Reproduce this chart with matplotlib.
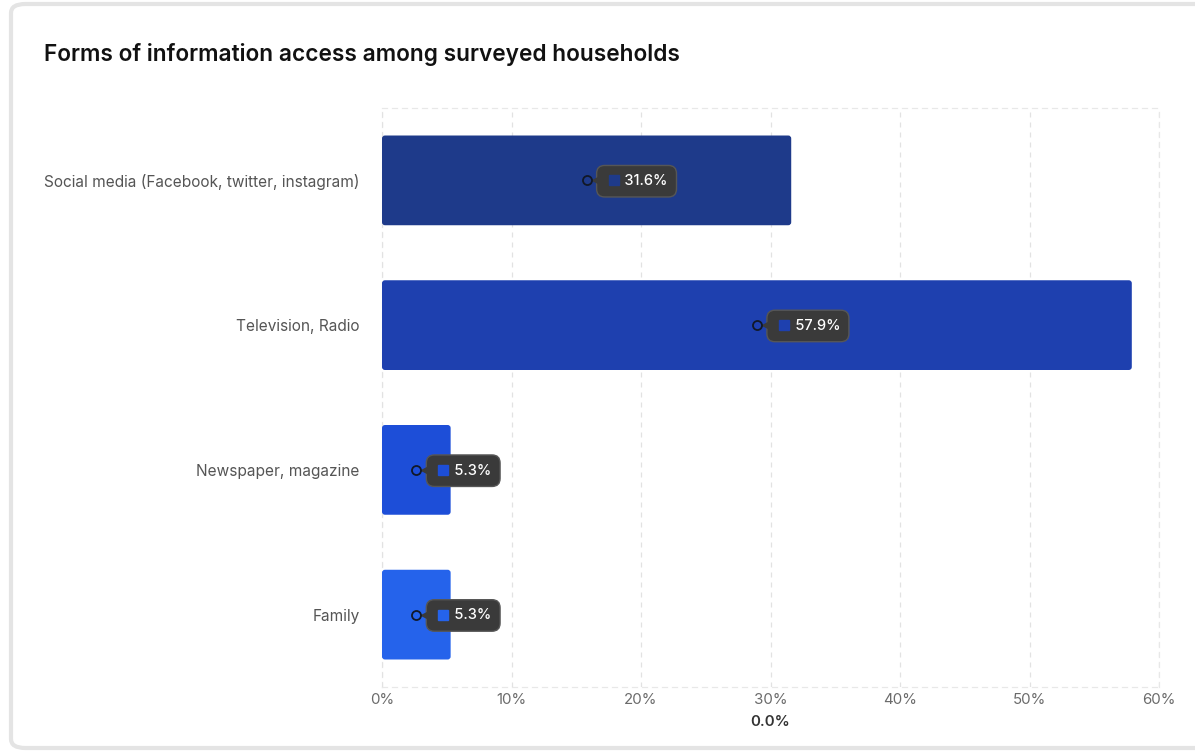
import matplotlib.pyplot as plt
from matplotlib.patches import FancyBboxPatch
from matplotlib import transforms

plt.rcParams['font.family'] = ['Inter', 'DejaVu Sans']

categories = ['Social media (Facebook, twitter, instagram)', 'Television, Radio',
              'Newspaper, magazine', 'Family']
values = [31.6, 57.9, 5.3, 5.3]
colors = ['#1e3a8a', '#1e40af', '#1d4ed8', '#2563eb']
xticks = [0, 10, 20, 30, 40, 50, 60]

fig = plt.figure(figsize=(11.95, 7.51), dpi=100)

# card frame
card = FancyBboxPatch((11 / 1195, 3 / 751), 1300 / 1195, 744 / 751,
                      boxstyle='round,pad=0,rounding_size=0.012',
                      transform=fig.transFigure, facecolor='white',
                      edgecolor='#e4e4e4', linewidth=3, zorder=-5)
fig.patches.append(card)

fig.text(44 / 1195, 1 - 54 / 751, 'Forms of information access among surveyed households',
         fontsize=16.3, fontweight='semibold', color='#111111', va='center', ha='left')

ax = fig.add_axes([382 / 1195, 1 - 687 / 751, 777 / 1195, 579 / 751])
ax.set_facecolor('none')
ax.set_zorder(2)
y = list(range(len(categories)))
bars = ax.barh(y, values, height=0.62, color=colors, zorder=2)
ax.set_xlim(0, 60)
ax.set_ylim(3.5, -0.5)

# rounded bar corners
xpx = 777 / 60
ypx = 579 / 4
for b in bars:
    x0, y0 = b.get_x(), b.get_y()
    w, h = b.get_width(), b.get_height()
    rb = FancyBboxPatch((x0, y0), w, h,
                        boxstyle='round,pad=0,rounding_size=%f' % (3 / xpx),
                        mutation_aspect=xpx / ypx,
                        fc=b.get_facecolor(), ec='none', zorder=2)
    ax.add_patch(rb)
    b.set_visible(False)

ax.set_xticks(xticks)
ax.set_xticklabels([f'{t}%' for t in xticks], color='#6b6b6b', fontsize=10.8)
ax.set_yticks(y)
ax.set_yticklabels(categories, color='#555555', fontsize=11.1)
ax.tick_params(length=0)
ax.tick_params(axis='x', pad=4)
ax.tick_params(axis='y', pad=16)
ax.grid(axis='x', color='#e2e2e2', linestyle=(0, (4, 4)), linewidth=0.9, zorder=0)
for s in ax.spines.values():
    s.set_color('#e8e8e8')
    s.set_linestyle((0, (4, 4)))
    s.set_linewidth(0.9)
    s.set_zorder(0.5)

ax.text(0.5, -0.049, '0.0%', transform=ax.transAxes, ha='center', va='top',
        fontsize=10.8, fontweight='semibold', color='#333333')

for i, v in enumerate(values):
    ax.plot(v / 2, i, 'o', mfc='none', mec='#111827', ms=6.5, mew=1.3, zorder=5)
    ax.annotate(f'     {v}%', xy=(v / 2, i), xytext=(13.5, -0.6), textcoords='offset points',
                ha='left', va='center', fontsize=10.5, color='white', fontweight='medium',
                bbox=dict(boxstyle='round,pad=0.6,rounding_size=0.55',
                          fc='#3a3a3a', ec='#565656', lw=1), zorder=4)
    tp = transforms.offset_copy(ax.transData, fig=fig, x=6.6, y=0, units='points')
    ax.plot(v / 2, i, '<', color='#3a3a3a', ms=6, transform=tp, zorder=4.5)
    tr = transforms.offset_copy(ax.transData, fig=fig, x=19.4, y=0, units='points')
    ax.plot(v / 2, i, 's', color=colors[i], ms=7, transform=tr, zorder=6)

fig.savefig('out.png', dpi=100)
